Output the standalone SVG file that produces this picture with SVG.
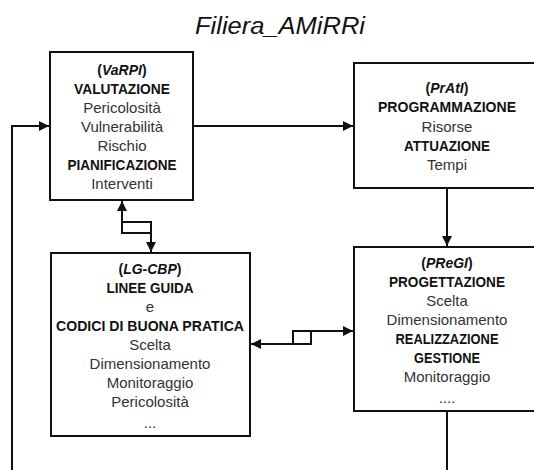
<svg xmlns="http://www.w3.org/2000/svg" width="534" height="470" viewBox="0 0 534 470">
<defs>
<marker id="arr" viewBox="0 0 10 10" refX="10" refY="5" markerWidth="10" markerHeight="10" markerUnits="userSpaceOnUse" orient="auto">
<path d="M0,0 L10,5 L0,10 z" fill="#111"/>
</marker>
</defs>
<style>
.box{fill:#fff;stroke:#111;stroke-width:2}
.t{font-family:"Liberation Sans",Arial,sans-serif;font-size:15px;fill:#333;text-anchor:middle}
.b{font-size:14px;font-weight:bold;fill:#111}
.i{font-style:italic}
.c{fill:none;stroke:#111;stroke-width:2}
.title{font-family:"Liberation Sans",Arial,sans-serif;font-size:23px;font-style:italic;fill:#111;text-anchor:middle}
</style>
<rect width="534" height="470" fill="#fff"/>
<text class="title" x="280" y="34" textLength="170" lengthAdjust="spacingAndGlyphs">Filiera_AMiRRi</text>

<g id="connectors">
<path class="c" d="M193,126 H353" marker-end="url(#arr)"/>
<path class="c" d="M447,188 V246" marker-end="url(#arr)"/>
<path class="c" d="M151,233 H122 V201" marker-end="url(#arr)"/>
<path class="c" d="M122,222 H151 V252" marker-end="url(#arr)"/>
<path class="c" d="M311,331 V344 H251" marker-end="url(#arr)"/>
<path class="c" d="M293,344 V331 H353" marker-end="url(#arr)"/>
<path class="c" d="M447,411 V480 H12 V126 H49" marker-end="url(#arr)"/>
</g>

<g id="VaRPI">
<rect class="box" x="50" y="52" width="143" height="148"/>
<text class="t b" x="122" y="75">(<tspan class="i">VaRPI</tspan>)</text>
<text class="t b" x="122" y="94" textLength="96" lengthAdjust="spacingAndGlyphs">VALUTAZIONE</text>
<text class="t" x="122" y="113">Pericolosità</text>
<text class="t" x="122" y="132">Vulnerabilità</text>
<text class="t" x="122" y="151">Rischio</text>
<text class="t b" x="122" y="170" textLength="109" lengthAdjust="spacingAndGlyphs">PIANIFICAZIONE</text>
<text class="t" x="122" y="189">Interventi</text>
</g>

<g id="PrAtI">
<rect class="box" x="354" y="63" width="190" height="125"/>
<text class="t b" x="447" y="93">(<tspan class="i">PrAtI</tspan>)</text>
<text class="t b" x="447" y="112" textLength="138" lengthAdjust="spacingAndGlyphs">PROGRAMMAZIONE</text>
<text class="t" x="447" y="132">Risorse</text>
<text class="t b" x="447" y="151" textLength="86" lengthAdjust="spacingAndGlyphs">ATTUAZIONE</text>
<text class="t" x="447" y="170">Tempi</text>
</g>

<g id="PReGI">
<rect class="box" x="354" y="247" width="190" height="164"/>
<text class="t b" x="447" y="268">(<tspan class="i">PReGI</tspan>)</text>
<text class="t b" x="447" y="287" textLength="116" lengthAdjust="spacingAndGlyphs">PROGETTAZIONE</text>
<text class="t" x="447" y="306">Scelta</text>
<text class="t" x="447" y="325">Dimensionamento</text>
<text class="t b" x="447" y="344" textLength="103" lengthAdjust="spacingAndGlyphs">REALIZZAZIONE</text>
<text class="t b" x="447" y="363" textLength="66" lengthAdjust="spacingAndGlyphs">GESTIONE</text>
<text class="t" x="447" y="382">Monitoraggio</text>
<text class="t" x="447" y="403">....</text>
</g>

<g id="LG-CBP">
<rect class="box" x="51" y="253" width="199" height="183"/>
<text class="t b" x="150" y="274">(<tspan class="i">LG-CBP</tspan>)</text>
<text class="t b" x="150" y="293" textLength="87" lengthAdjust="spacingAndGlyphs">LINEE GUIDA</text>
<text class="t" x="150" y="312">e</text>
<text class="t b" x="150" y="331" textLength="188" lengthAdjust="spacingAndGlyphs">CODICI DI BUONA PRATICA</text>
<text class="t" x="150" y="350">Scelta</text>
<text class="t" x="150" y="369">Dimensionamento</text>
<text class="t" x="150" y="388">Monitoraggio</text>
<text class="t" x="150" y="407">Pericolosità</text>
<text class="t" x="150" y="428">...</text>
</g>
</svg>
